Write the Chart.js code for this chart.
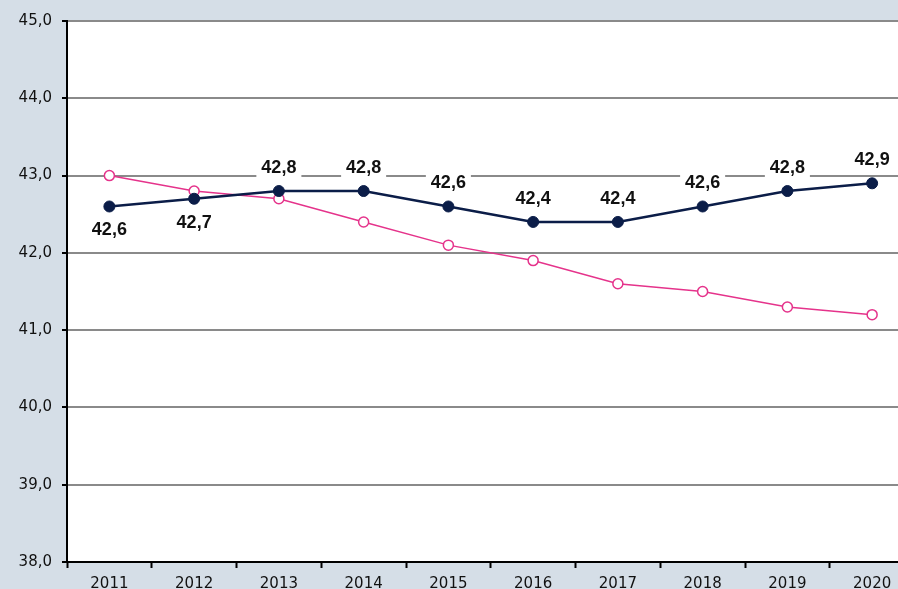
<!DOCTYPE html>
<html><head><meta charset="utf-8">
<script src="https://cdn.jsdelivr.net/npm/chart.js@4"></script>
<style>
html,body{margin:0;padding:0;background:#d5dee7;overflow:hidden;width:898px;height:589px}
#c{position:absolute;left:0;top:0}
</style></head><body>
<canvas id="c" width="921" height="589"></canvas>
<script>
const years = ['2011','2012','2013','2014','2015','2016','2017','2018','2019','2020'];
const seriesNavy = [42.6, 42.7, 42.8, 42.8, 42.6, 42.4, 42.4, 42.6, 42.8, 42.9];
const seriesPink = [43.0, 42.8, 42.7, 42.4, 42.1, 41.9, 41.6, 41.5, 41.3, 41.2];
const yMin = 38, yMax = 45, yStep = 1;

const fmt = v => v.toFixed(1).replace('.', ',');

const bgPlugin = {
  id: 'plotBg',
  beforeDraw(chart) {
    const {ctx, chartArea: a} = chart;
    ctx.save();
    ctx.fillStyle = '#ffffff';
    ctx.fillRect(a.left, a.top, a.right - a.left, a.bottom - a.top);
    ctx.restore();
  }
};

const labelPlugin = {
  id: 'valueLabels',
  afterDatasetsDraw(chart) {
    const ctx = chart.ctx;
    const meta = chart.getDatasetMeta(0);
    const data = chart.data.datasets[0].data;
    ctx.save();
    ctx.font = 'bold 18px "Liberation Sans", Arial, sans-serif';
    ctx.textAlign = 'center';
    ctx.textBaseline = 'middle';
    meta.data.forEach((pt, i) => {
      const txt = fmt(data[i]);
      const below = i < 2;
      const y = below ? pt.y + 23 : pt.y - 24;
      const w = ctx.measureText(txt).width;
      ctx.fillStyle = '#ffffff';
      ctx.fillRect(pt.x - w / 2 - 5, y - 10, w + 10, 20);
      ctx.fillStyle = '#111111';
      ctx.fillText(txt, pt.x, y + 1);
    });
    ctx.restore();
  }
};

new Chart(document.getElementById('c'), {
  type: 'line',
  data: {
    labels: years,
    datasets: [
      {
        data: seriesNavy,
        borderColor: '#0b1d48',
        backgroundColor: '#0b1d48',
        borderWidth: 2.5,
        pointRadius: 5.5,
        pointBackgroundColor: '#0b1d48',
        pointBorderColor: '#0b1d48',
        pointBorderWidth: 1,
        tension: 0
      },
      {
        data: seriesPink,
        borderColor: '#e5338b',
        backgroundColor: '#ffffff',
        borderWidth: 1.5,
        pointRadius: 5,
        pointBackgroundColor: '#ffffff',
        pointBorderColor: '#e5338b',
        pointBorderWidth: 1.5,
        tension: 0
      }
    ]
  },
  options: {
    responsive: false,
    animation: false,
    devicePixelRatio: 1,
    layout: {padding: {top: 21, left: 0, right: 0, bottom: 0}},
    plugins: {legend: {display: false}, tooltip: {enabled: false}},
    scales: {
      x: {
        offset: true,
        grid: {drawOnChartArea: false, offset: true, tickLength: 6, tickColor: '#000000', tickWidth: 2},
        border: {color: '#000000', width: 2},
        ticks: {font: {family: '"DejaVu Sans", sans-serif', size: 15}, color: '#111111', padding: 7, maxRotation: 0},
        afterFit(s) { s.height = 27; }
      },
      y: {
        min: yMin, max: yMax,
        grid: {color: '#8a8a8a', lineWidth: 2, tickLength: 5, tickColor: '#000000', tickWidth: 2},
        border: {color: '#000000', width: 2},
        ticks: {stepSize: yStep, callback: v => fmt(v), font: {family: '"DejaVu Sans", sans-serif', size: 15}, color: '#111111', padding: 10},
        afterFit(s) { s.width = 67; }
      }
    }
  },
  plugins: [bgPlugin, labelPlugin]
});
</script>
</body></html>
